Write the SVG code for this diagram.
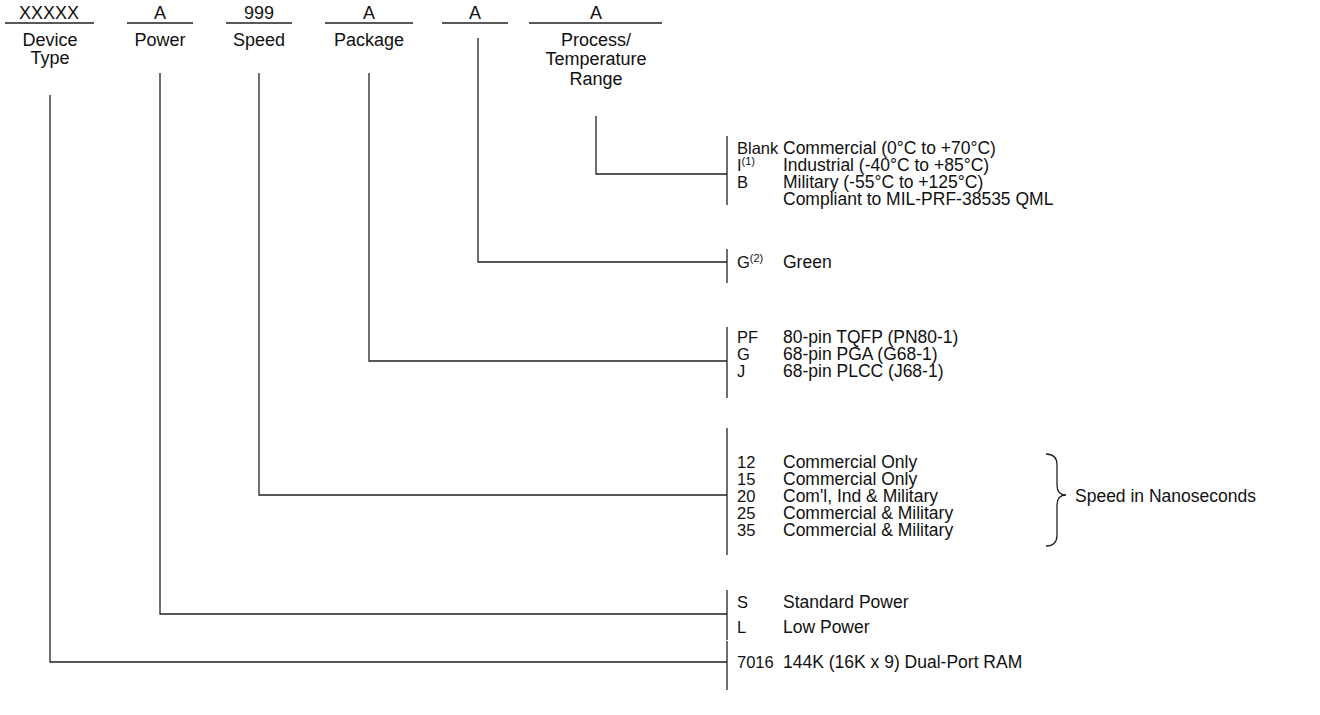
<svg xmlns="http://www.w3.org/2000/svg" width="1320" height="715" viewBox="0 0 1320 715">
<style>
text{font-family:"Liberation Sans",Arial,sans-serif;font-size:18px;fill:#111}
.c{text-anchor:middle}
.k{font-size:16.5px}
.d{font-size:17.5px}
.sup{font-size:11px}
line,path{stroke:#222;stroke-width:1.3;fill:none}
</style>
<rect width="1320" height="715" fill="#fff"/>
<g id="header">
<text class="c" x="49" y="19">XXXXX</text><line x1="5" y1="23" x2="94" y2="23"/>
<text class="c" x="160" y="19">A</text><line x1="127" y1="23" x2="193" y2="23"/>
<text class="c" x="259" y="19">999</text><line x1="226" y1="23" x2="292" y2="23"/>
<text class="c" x="369" y="19">A</text><line x1="325" y1="23" x2="413" y2="23"/>
<text class="c" x="475" y="19">A</text><line x1="442" y1="23" x2="508" y2="23"/>
<text class="c" x="596" y="19">A</text><line x1="529" y1="23" x2="662" y2="23"/>
<text class="c" x="50" y="46">Device</text><text class="c" x="50" y="64">Type</text>
<text class="c" x="160" y="46">Power</text>
<text class="c" x="259" y="46">Speed</text>
<text class="c" x="369" y="46">Package</text>
<text class="c" x="596" y="46">Process/</text><text class="c" x="596" y="65">Temperature</text><text class="c" x="596" y="85">Range</text>
</g>
<g id="connectors">
<path d="M596,116 V174 H727"/><line x1="727" y1="136" x2="727" y2="205"/>
<path d="M478,38 V262 H727"/><line x1="727" y1="249" x2="727" y2="283"/>
<path d="M369,73 V361 H727"/><line x1="727" y1="327" x2="727" y2="398"/>
<path d="M259,73 V495 H727"/><line x1="727" y1="428" x2="727" y2="555"/>
<path d="M160,73 V614 H727"/><line x1="727" y1="590" x2="727" y2="640"/>
<path d="M50,95 V662 H727"/><line x1="727" y1="641" x2="727" y2="690"/>
<path d="M1046,454 Q1057,454 1057,465 L1057,485 Q1057,495 1066,495 Q1057,495 1057,505 L1057,535 Q1057,546 1046,546"/>
</g>
<g id="process">
<text class="k" x="737" y="154">Blank</text><text class="d" x="783" y="154">Commercial (0°C to +70°C)</text>
<text class="k" x="737" y="171">I<tspan class="sup" dy="-6">(1)</tspan></text><text class="d" x="783" y="171">Industrial (-40°C to +85°C)</text>
<text class="k" x="737" y="188">B</text><text class="d" x="783" y="188">Military (-55°C to +125°C)</text>
<text class="d" x="783" y="205">Compliant to MIL-PRF-38535 QML</text>
</g>
<g id="green">
<text class="k" x="737" y="268">G<tspan class="sup" dy="-6">(2)</tspan></text><text class="d" x="783" y="268">Green</text>
</g>
<g id="package">
<text class="k" x="737" y="343">PF</text><text class="d" x="783" y="343">80-pin TQFP (PN80-1)</text>
<text class="k" x="737" y="360">G</text><text class="d" x="783" y="360">68-pin PGA (G68-1)</text>
<text class="k" x="737" y="377">J</text><text class="d" x="783" y="377">68-pin PLCC (J68-1)</text>
</g>
<g id="speed">
<text class="k" x="737" y="468">12</text><text class="d" x="783" y="468">Commercial Only</text>
<text class="k" x="737" y="485">15</text><text class="d" x="783" y="485">Commercial Only</text>
<text class="k" x="737" y="502">20</text><text class="d" x="783" y="502">Com'l, Ind &amp; Military</text>
<text class="k" x="737" y="519">25</text><text class="d" x="783" y="519">Commercial &amp; Military</text>
<text class="k" x="737" y="536">35</text><text class="d" x="783" y="536">Commercial &amp; Military</text>
<text class="d" x="1075" y="502">Speed in Nanoseconds</text>
</g>
<g id="power">
<text class="k" x="737" y="608">S</text><text class="d" x="783" y="608">Standard Power</text>
<text class="k" x="737" y="633">L</text><text class="d" x="783" y="633">Low Power</text>
</g>
<g id="device">
<text class="k" x="737" y="668">7016</text><text class="d" x="783" y="668">144K (16K x 9) Dual-Port RAM</text>
</g>
</svg>
